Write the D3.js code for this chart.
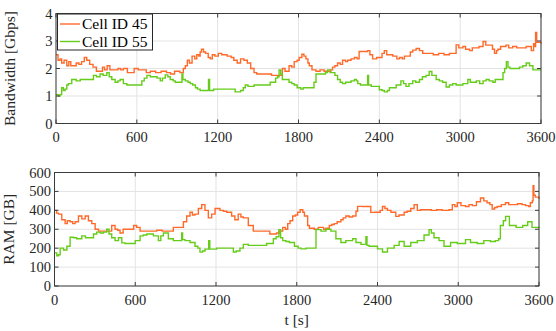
<!DOCTYPE html>
<html><head><meta charset="utf-8">
<script src="https://cdn.jsdelivr.net/npm/d3@7"></script>
<style>body{margin:0;background:#fff}</style>
</head><body>
<script>
// ---- data ----
const series = ["Cell ID 45", "Cell ID 55"];
const xTicks = [0,600,1200,1800,2400,3000,3600];
const bwTicks = [0,1,2,3,4];
const ramTicks = [0,100,200,300,400,500,600];

const tBw45 = [0,15,30,42,60,80,95,110,130,150,170,190,210,228,250,275,300,330,345,360,380,400,430,460,480,500,530,560,580,610,640,670,700,740,780,820,850,880,920,945,960,975,990,1010,1030,1045,1060,1070,1080,1095,1110,1130,1145,1160,1180,1205,1230,1250,1270,1300,1320,1345,1370,1395,1420,1445,1470,1490,1520,1560,1600,1640,1680,1700,1730,1750,1768,1790,1805,1825,1840,1855,1870,1880,1900,1930,1960,1990,2020,2040,2053,2070,2090,2110,2127,2150,2165,2190,2215,2235,2250,2280,2313,2330,2350,2380,2400,2420,2437,2455,2475,2500,2530,2550,2570,2586,2610,2630,2648,2673,2698,2722,2760,2800,2840,2880,2920,2945,2970,2990,3020,3040,3070,3090,3120,3140,3170,3190,3220,3240,3255,3270,3280,3300,3340,3360,3390,3420,3465,3490,3528,3545,3552,3560,3568,3578,3600];
const bw45  = [2.5,2.3,2.35,2.2,2.3,2.1,2.25,2.1,2.1,2.2,2.15,2.25,2.4,2.3,2.15,2.05,1.9,1.9,2.05,1.95,2.1,1.95,1.95,2.0,1.95,2.0,1.85,1.85,2.0,1.95,1.95,1.85,1.9,1.85,1.9,1.85,1.8,1.9,1.85,2.0,2.1,2.3,2.2,2.45,2.35,2.5,2.45,2.6,2.7,2.6,2.55,2.4,2.35,2.5,2.45,2.55,2.5,2.5,2.45,2.4,2.3,2.2,2.35,2.3,2.2,2.0,1.85,1.8,1.8,1.8,1.75,1.75,2.0,1.9,2.1,2.05,2.25,2.3,2.4,2.52,2.45,2.35,2.2,2.1,1.95,1.9,1.95,1.9,1.9,1.95,2.05,2.1,2.2,2.15,2.3,2.25,2.3,2.35,2.4,2.35,2.62,2.62,2.65,2.5,2.35,2.4,2.4,2.55,2.65,2.5,2.5,2.45,2.35,2.4,2.35,2.45,2.45,2.6,2.67,2.73,2.65,2.55,2.55,2.5,2.55,2.5,2.55,2.55,2.86,2.75,2.8,2.7,2.65,2.75,2.75,2.8,2.98,2.85,2.85,2.7,2.55,2.65,2.7,2.8,2.85,2.75,2.8,2.75,2.75,2.8,2.65,2.9,2.8,3.31,2.95,2.95,2.9];

const tBw55 = [0,17,30,42,55,67,80,92,117,150,180,210,250,278,300,327,350,377,395,414,439,460,476,500,526,560,600,625,637,655,675,700,724,750,774,790,811,830,848,870,885,922,935,942,960,980,997,1015,1035,1050,1070,1100,1125,1132,1140,1170,1200,1250,1300,1330,1350,1370,1390,1405,1425,1445,1470,1520,1570,1590,1610,1630,1645,1656,1668,1680,1700,1730,1750,1768,1790,1817,1835,1855,1880,1905,1915,1930,1960,1980,2000,2015,2035,2053,2070,2090,2110,2127,2150,2165,2190,2215,2230,2240,2260,2276,2300,2313,2320,2340,2375,2400,2420,2437,2460,2475,2500,2525,2545,2560,2580,2598,2620,2648,2670,2698,2720,2747,2770,2790,2822,2845,2870,2896,2920,2945,2970,2995,3020,3057,3075,3095,3120,3145,3170,3193,3215,3243,3260,3280,3305,3318,3330,3343,3355,3370,3390,3417,3440,3465,3490,3515,3540,3553,3575,3600];
const bw55  = [1.05,1.0,1.05,1.3,1.2,1.25,1.4,1.45,1.6,1.55,1.6,1.6,1.6,1.75,1.7,1.8,1.75,1.85,1.7,1.6,1.5,1.55,1.6,1.45,1.4,1.4,1.4,1.4,1.55,1.65,1.75,1.7,1.7,1.65,1.55,1.65,1.77,1.7,1.6,1.55,1.5,1.5,1.8,1.6,1.55,1.5,1.45,1.4,1.3,1.25,1.2,1.2,1.2,1.6,1.2,1.25,1.25,1.25,1.25,1.15,1.15,1.2,1.3,1.4,1.35,1.35,1.4,1.4,1.4,1.5,1.5,1.65,1.7,1.95,1.8,1.6,1.6,1.5,1.45,1.4,1.3,1.25,1.3,1.3,1.3,1.3,1.5,1.8,1.8,1.8,1.85,1.95,1.85,1.85,1.75,1.6,1.5,1.45,1.5,1.5,1.55,1.6,1.55,1.45,1.4,1.4,1.4,1.75,1.4,1.35,1.35,1.23,1.2,1.15,1.2,1.3,1.3,1.4,1.4,1.55,1.45,1.35,1.45,1.55,1.5,1.6,1.7,1.75,1.89,1.75,1.6,1.55,1.5,1.33,1.4,1.45,1.4,1.4,1.45,1.6,1.5,1.5,1.55,1.45,1.55,1.6,1.55,1.5,1.6,1.6,1.6,1.85,2.0,2.25,2.05,2.0,2.0,2.0,2.05,2.1,2.2,2.1,1.95,1.95,1.95];

const tRam45 = [0,15,30,54,79,95,116,135,153,178,203,228,252,277,302,327,360,413,425,450,470,487,510,550,588,611,636,686,710,760,800,860,883,933,958,982,1007,1025,1044,1069,1094,1118,1143,1168,1193,1230,1255,1280,1316,1340,1365,1385,1403,1440,1477,1527,1576,1600,1650,1670,1696,1715,1733,1750,1770,1790,1807,1825,1845,1857,1881,1894,1930,1960,2000,2017,2042,2060,2079,2100,2128,2145,2165,2190,2215,2240,2252,2290,2326,2350,2380,2400,2420,2437,2455,2474,2500,2536,2560,2598,2620,2647,2672,2696,2721,2760,2800,2840,2880,2931,2956,2975,2993,3020,3054,3080,3104,3135,3165,3190,3214,3235,3252,3270,3289,3320,3351,3375,3400,3440,3474,3500,3523,3536,3550,3556,3562,3573,3600];
const ram45  = [400,385,380,350,330,345,340,330,340,370,355,370,345,330,300,290,290,290,320,300,295,280,300,300,320,310,290,290,290,295,290,290,310,310,340,370,390,375,380,410,430,400,360,380,410,400,395,390,370,350,380,365,360,320,290,290,290,275,280,290,310,300,330,345,370,375,390,403,390,370,320,305,300,310,300,305,320,325,330,340,350,360,370,365,370,395,421,420,420,389,390,390,400,420,410,400,390,368,375,390,395,410,430,400,403,403,400,403,400,403,430,420,440,425,420,430,425,445,465,450,440,430,407,415,420,430,440,430,430,435,430,425,420,440,450,530,480,470,460];

const tRam55 = [0,17,30,42,67,92,116,141,165,203,230,265,290,314,340,364,388,405,425,450,475,500,524,560,586,600,636,660,686,735,772,790,809,846,883,933,945,952,970,1007,1044,1065,1081,1100,1118,1140,1146,1154,1180,1205,1255,1305,1329,1350,1378,1403,1440,1477,1552,1576,1626,1647,1667,1680,1696,1720,1745,1783,1810,1832,1869,1918,1943,1980,2017,2054,2091,2128,2165,2215,2240,2277,2314,2322,2338,2375,2400,2437,2474,2500,2524,2561,2598,2647,2696,2746,2783,2800,2820,2857,2894,2943,2993,3054,3091,3141,3190,3239,3276,3300,3313,3335,3352,3380,3430,3479,3516,3548,3600];
const ram55  = [175,160,165,200,190,210,258,255,250,265,255,255,275,285,280,285,300,275,255,240,255,228,225,225,225,240,265,270,275,265,240,265,280,250,240,240,280,245,240,230,210,200,179,185,195,195,240,195,195,200,200,200,180,185,200,220,215,215,215,225,250,260,298,255,240,235,230,210,200,196,200,200,298,290,300,290,250,230,240,250,230,220,260,215,210,210,196,180,200,200,215,235,210,230,240,270,298,280,255,240,210,230,225,245,230,225,240,235,240,250,320,345,368,320,310,320,340,310,305];

// ---- layout ----
const W = 556, H = 331;
const colors = ["#ff6a2b", "#66cc1a"];
const font = "'Liberation Serif','Times New Roman',serif";
const svg = d3.select("body").append("svg").attr("width", W).attr("height", H)
  .style("font-family", font);

function panel(box, yDomain, yTicks, yLabel, data, xLabel, legend) {
  const x = d3.scaleLinear().domain([0,3600]).range([box.l, box.r]);
  const y = d3.scaleLinear().domain(yDomain).range([box.b, box.t]);
  const g = svg.append("g");
  // grid
  g.selectAll(".gx").data(xTicks).join("line")
    .attr("x1", d=>x(d)).attr("x2", d=>x(d)).attr("y1", box.t).attr("y2", box.b)
    .attr("stroke", "#e3e3e3").attr("stroke-width", 1);
  g.selectAll(".gy").data(yTicks).join("line")
    .attr("y1", d=>y(d)).attr("y2", d=>y(d)).attr("x1", box.l).attr("x2", box.r)
    .attr("stroke", "#e3e3e3").attr("stroke-width", 1);
  // lines
  const line = d3.line().x(d=>x(d[0])).y(d=>y(d[1])).curve(d3.curveStepAfter);
  data.forEach((s, i) => {
    const pts = s.t.map((tt, k) => [tt, s.v[k]]);
    g.append("path").datum(pts).attr("d", line).attr("fill", "none")
      .attr("stroke", colors[i]).attr("stroke-width", 1.4)
      .attr("stroke-linejoin", "miter");
  });
  // box
  g.append("rect").attr("x", box.l).attr("y", box.t).attr("width", box.r-box.l).attr("height", box.b-box.t)
    .attr("fill", "none").attr("stroke", "#3c3c3c").attr("stroke-width", 1);
  // ticks inward
  const tl = 4;
  xTicks.forEach(d => {
    g.append("line").attr("x1", x(d)).attr("x2", x(d)).attr("y1", box.b).attr("y2", box.b-tl).attr("stroke", "#3c3c3c");
    g.append("line").attr("x1", x(d)).attr("x2", x(d)).attr("y1", box.t).attr("y2", box.t+tl).attr("stroke", "#3c3c3c");
  });
  yTicks.forEach(d => {
    g.append("line").attr("y1", y(d)).attr("y2", y(d)).attr("x1", box.l).attr("x2", box.l+tl).attr("stroke", "#3c3c3c");
    g.append("line").attr("y1", y(d)).attr("y2", y(d)).attr("x1", box.r).attr("x2", box.r-tl).attr("stroke", "#3c3c3c");
  });
  // tick labels
  g.selectAll(".xl").data(xTicks).join("text")
    .attr("x", d=>x(d)).attr("y", box.b + 18.5).attr("text-anchor", "middle")
    .attr("font-size", 14.5).attr("fill", "#262626").text(d=>d);
  g.selectAll(".yl").data(yTicks).join("text")
    .attr("x", box.l - 3.5).attr("y", d=>y(d) + 5).attr("text-anchor", "end")
    .attr("font-size", 14.5).attr("fill", "#262626").text(d=>d);
  // y label
  g.append("text").attr("transform", `translate(${box.l-41},${(box.t+box.b)/2}) rotate(-90)`)
    .attr("text-anchor", "middle").attr("font-size", 15.5).attr("fill", "#262626").text(yLabel);
  if (xLabel) {
    g.append("text").attr("x", (box.l+box.r)/2).attr("y", box.b + 38.5).attr("text-anchor", "middle")
      .attr("font-size", 15.5).attr("fill", "#262626").text(xLabel);
  }
  if (legend) {
    const lg = g.append("g");
    lg.append("rect").attr("x", box.l+1.5).attr("y", box.t+0.5).attr("width", 95).attr("height", 36)
      .attr("fill", "#fff").attr("stroke", "#262626").attr("stroke-width", 1);
    series.forEach((s, i) => {
      const yy = box.t + 10.5 + i*17.5;
      lg.append("line").attr("x1", box.l+4).attr("x2", box.l+24).attr("y1", yy).attr("y2", yy)
        .attr("stroke", colors[i]).attr("stroke-width", 1.4);
      lg.append("text").attr("x", box.l+26).attr("y", yy+5).attr("font-size", 15.5)
        .attr("fill", "#000").text(s);
    });
  }
}

panel({l:56, r:541, t:13.5, b:123.5}, [0,4], bwTicks, "Bandwidth [Gbps]",
  [{t:tBw45, v:bw45}, {t:tBw55, v:bw55}], null, true);
panel({l:54.5, r:539, t:172.5, b:286}, [0,600], ramTicks, "RAM [GB]",
  [{t:tRam45, v:ram45}, {t:tRam55, v:ram55}], "t [s]", false);
</script>
</body></html>
